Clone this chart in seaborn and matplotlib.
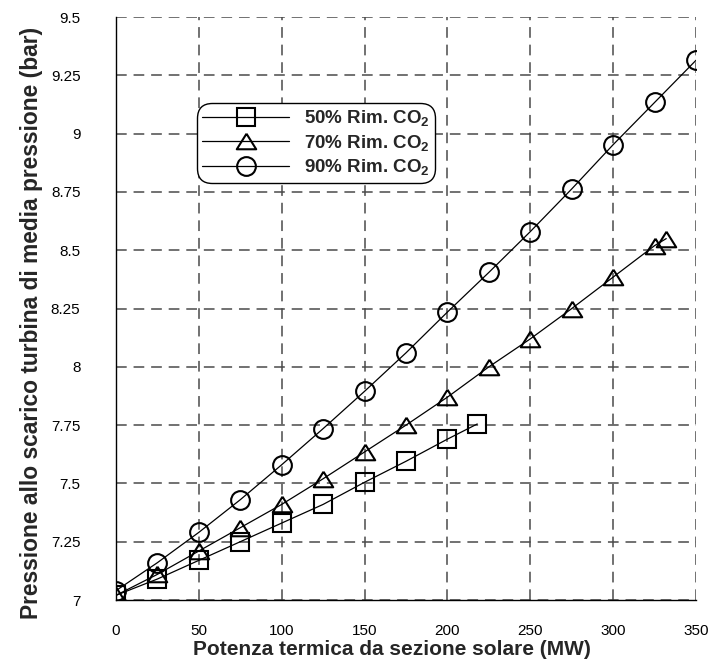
import matplotlib
matplotlib.use("Agg")
import matplotlib.pyplot as plt
import seaborn as sns
import numpy as np
from matplotlib.lines import Line2D

# ---- data ----
x_50 = [0, 25, 50, 75, 100, 125, 150, 175, 200, 218]
y_50 = [7.02, 7.09, 7.17, 7.25, 7.33, 7.41, 7.505, 7.595, 7.69, 7.755]

x_70 = [0, 25, 50, 75, 100, 125, 150, 175, 200, 225, 250, 275, 300, 325, 332]
y_70 = [7.02, 7.11, 7.21, 7.31, 7.41, 7.52, 7.635, 7.75, 7.87, 8.0, 8.12, 8.25, 8.385, 8.52, 8.55]

x_90 = [0, 25, 50, 75, 100, 125, 150, 175, 200, 225, 250, 275, 300, 325, 350]
y_90 = [7.04, 7.16, 7.29, 7.43, 7.58, 7.735, 7.895, 8.06, 8.235, 8.405, 8.58, 8.763, 8.953, 9.134, 9.315]

series_labels = ["50% Rim. CO$_\\mathbf{2}$", "70% Rim. CO$_\\mathbf{2}$", "90% Rim. CO$_\\mathbf{2}$"]

x_ticks = [0, 50, 100, 150, 200, 250, 300, 350]
x_tick_labels = ["0", "50", "100", "150", "200", "250", "300", "350"]
y_ticks = [7, 7.25, 7.5, 7.75, 8, 8.25, 8.5, 8.75, 9, 9.25, 9.5]
y_tick_labels = ["7", "7.25", "7.5", "7.75", "8", "8.25", "8.5", "8.75", "9", "9.25", "9.5"]

x_label = "Potenza termica da sezione solare (MW)"
y_label = "Pressione allo scarico turbina di media pressione (bar)"

# ---- style ----
sns.set_theme(style="white")
plt.rcParams["font.family"] = ["Liberation Sans", "DejaVu Sans"]
plt.rcParams["mathtext.fontset"] = "custom"
plt.rcParams["mathtext.rm"] = "Liberation Sans:bold"
plt.rcParams["mathtext.bf"] = "Liberation Sans:bold"
plt.rcParams["mathtext.it"] = "Liberation Sans:bold"

fig = plt.figure(figsize=(7.11, 6.67), dpi=100)
ax = fig.add_axes([0.163, 0.1004, 0.816, 0.874])

tri = [(0, 0.8), (-1, -0.8), (1, -0.8), (0, 0.8)]
markers = ["s", tri, "o"]
msizes = [13.5, 14, 13.5]
datasets = [(x_50, y_50), (x_70, y_70), (x_90, y_90)]

handles = []
for (xs, ys), mk, ms, lab in zip(datasets, markers, msizes, series_labels):
    sns.lineplot(x=xs, y=ys, ax=ax, color="black", linewidth=0.9,
                 marker=mk, markersize=ms, markerfacecolor="none",
                 markeredgecolor="black", markeredgewidth=1.5,
                 sort=False, zorder=3)
    handles.append(Line2D([], [], color="black", linewidth=0.9, marker=mk,
                          markersize=ms, markerfacecolor="none",
                          markeredgecolor="black", markeredgewidth=1.5, label=lab))

ax.set_xlim(0, 350)
ax.set_ylim(7, 9.5)
ax.set_xticks(x_ticks)
ax.set_xticklabels(x_tick_labels)
ax.set_yticks(y_ticks)
ax.set_yticklabels(y_tick_labels)
ax.set_xticks(np.arange(25, 350, 50), minor=True)
ax.set_yticks(np.arange(7.125, 9.5, 0.25), minor=True)

ax.tick_params(axis="both", which="major", direction="out", length=12.5, width=1,
               color="black", labelsize=11, labelcolor="black")
ax.tick_params(axis="x", which="major", pad=5)
ax.tick_params(axis="y", which="major", pad=13)
ax.tick_params(axis="both", which="minor", direction="out", length=6.3, width=1,
               color="black")

ax.grid(True, which="major", color="#4a4a4a", linestyle=(0, (7, 4.5)), linewidth=1.1, zorder=1)
ax.set_axisbelow(True)

for s in ["top", "right"]:
    ax.spines[s].set_visible(False)
for s in ["left", "bottom"]:
    ax.spines[s].set_color("black")
    ax.spines[s].set_linewidth(1.0)

ax.set_xlabel(x_label, fontsize=15, fontweight="bold", labelpad=1, x=0.476)
ax.set_ylabel(y_label, fontsize=16.4, fontweight="bold", labelpad=6, y=0.475)

leg = ax.legend(handles=handles, loc="upper left", bbox_to_anchor=(0.1397, 0.8525),
                prop={"weight": "bold", "size": 13.5}, frameon=True, fancybox=True,
                edgecolor="black", framealpha=1, handlelength=4.64,
                handletextpad=0.8, labelspacing=0.25, borderpad=0.27,
                borderaxespad=0)
leg.get_frame().set_linewidth(1.0)
leg.get_frame().set_boxstyle("round,pad=0,rounding_size=0.8")

fig.savefig("out.png", dpi=100, facecolor="white")
